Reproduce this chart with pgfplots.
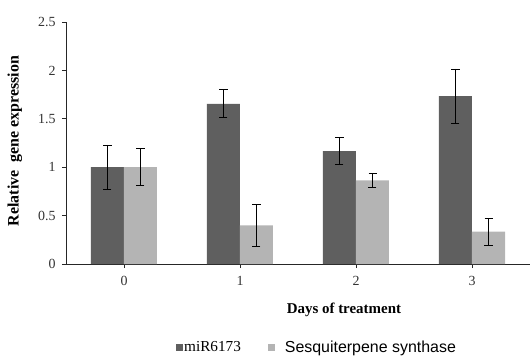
\documentclass[border=0pt]{standalone}
\usepackage{pgfplots}
\pgfplotsset{compat=1.18}
\usepackage{fontspec}
\setmainfont{Liberation Serif}
\newfontfamily\legsans{Liberation Sans}
\definecolor{darkbar}{HTML}{5F5F5F}
\definecolor{lightbar}{HTML}{B4B4B4}
\pgfplotsset{myerr/.style={
  error bars/y dir=both, error bars/y explicit,
  error bars/error bar style={black, line width=0.8pt},
  error bars/error mark options={rotate=90, mark size=4bp, black, line width=0.8pt}}}
\begin{document}
\begin{tikzpicture}
\begin{axis}[
  scale only axis, width=464bp, height=242bp,
  at={(0,0)}, anchor=south west,
  ybar=0pt, bar width=33bp,
  xmin=-0.5, xmax=3.5, ymin=0, ymax=2.5,
  xtick={0,1,2,3}, ytick={0,0.5,1,1.5,2,2.5},
  axis x line*=bottom, axis y line*=left,
  axis line style={line width=0.8pt, black!85},
  tick align=outside, major tick length=4bp,
  tick style={black!85, line width=0.7pt},
  ticklabel style={font=\fontsize{14}{16}\selectfont, text=black!80},
  /pgf/number format/assume math mode=true,
  xticklabel style={yshift=-5bp},
  yticklabel style={xshift=-3bp},
  ylabel={\textbf{Relative\ \ gene expression}},
  ylabel style={font=\fontsize{16}{18}\selectfont, at={(axis description cs:-0.11,0.508)}, anchor=center, rotate=0},
  xlabel={\textbf{Days of treatment}},
  xlabel style={font=\fontsize{15}{17}\selectfont, at={(axis description cs:0.599,-0.19)}, anchor=center},
  legend style={at={(axis description cs:0.54,-0.343)}, anchor=center, draw=none, legend columns=2,
    font=\fontsize{15.3}{17}\selectfont, nodes={inner xsep=1bp, inner ysep=2bp},
    /tikz/every even column/.append style={column sep=26bp}},
  legend image code/.code={\fill[#1, draw=none] (0bp,-3.5bp) rectangle (7bp,3.5bp);},
]
\addplot[fill=darkbar, draw=none, myerr] coordinates {
  (0,1.00) +- (0,0.23)
  (1,1.655) +- (0,0.145)
  (2,1.167) +- (0,0.14)
  (3,1.735) +- (0,0.28)
};
\addlegendentry{miR6173}
\addplot[fill=lightbar, draw=none, myerr] coordinates {
  (0,1.00) +- (0,0.19)
  (1,0.40) +- (0,0.215)
  (2,0.865) +- (0,0.075)
  (3,0.335) +- (0,0.14)
};
\addlegendentry{\hspace{9bp}\legsans\fontsize{16}{18}\selectfont Sesquiterpene synthase}
\end{axis}
\pgfresetboundingbox
\path[use as bounding box] (-66bp,-92bp) rectangle (464bp,264bp);
\end{tikzpicture}
\end{document}
